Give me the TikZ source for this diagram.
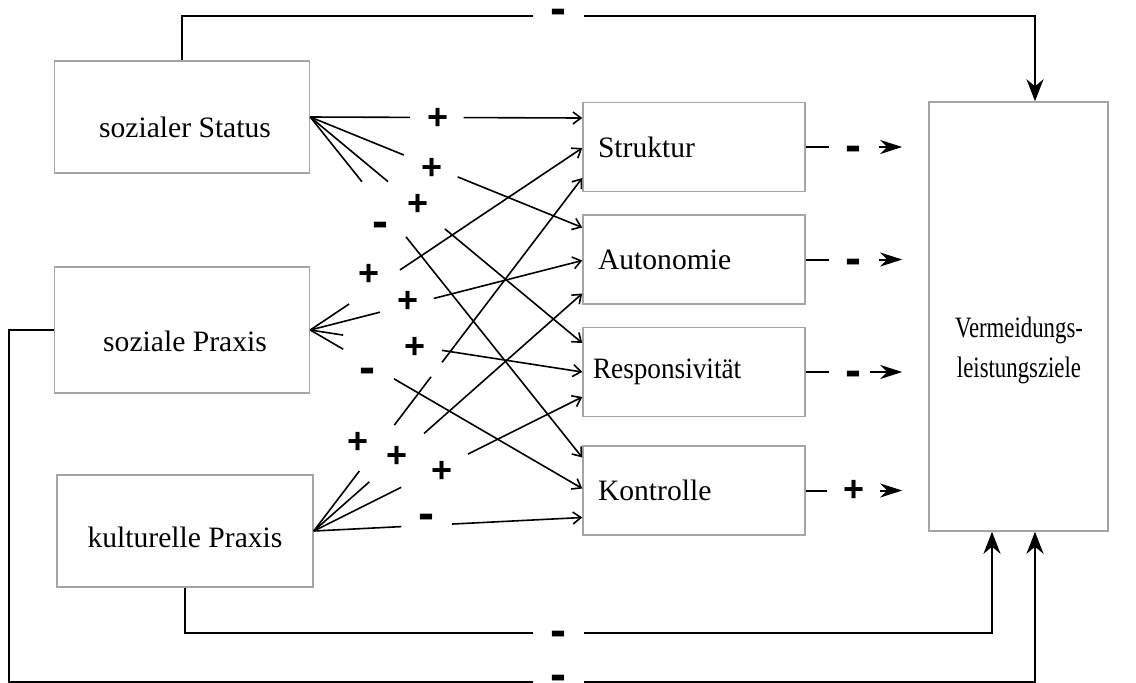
\documentclass[tikz,border=0pt]{standalone}
\usepackage{graphicx}
\usepackage{fontspec}
\setmainfont{Liberation Serif}
\newfontfamily\signfont{Liberation Sans}
\usetikzlibrary{arrows.meta, calc, positioning}
\definecolor{boxgray}{RGB}{165,165,165}

\begin{document}
\begin{tikzpicture}[
    x=0.5pt, y=-0.5pt,
    box/.style={draw=boxgray, line width=0.75pt, inner sep=0pt},
    txt/.style={font=\fontsize{14.8pt}{20pt}\selectfont, inner sep=0pt},
    mid/.style={box, txt, minimum height=44.5pt, text width=96pt, align=left, inner xsep=7.5pt},
    link/.style={line width=0.8pt},
    fb/.style={line width=1pt},
    smallhead/.style={-{Straight Barb[length=4pt,width=6pt]}},
    bighead/.style={-{Stealth[length=11pt,width=8.5pt,inset=3.5pt]}},
    sidehead/.style={-{Stealth[length=11pt,width=7pt,inset=3.5pt]}},
    sgnplus/.style={font={\signfont\bfseries\fontsize{18pt}{18pt}\selectfont}, inner sep=0pt},
    sgnminus/.style={font={\signfont\bfseries\fontsize{24pt}{24pt}\selectfont}, inner sep=0pt, yshift=-3.5pt}
  ]
    \useasboundingbox (0,0) rectangle (1136,682);

    % Einflussgroessen links
    \node[box, minimum width=127.5pt, minimum height=56pt] (status) at (182,117) {};
    \node[txt] (statustxt) at (185,127.5) {sozialer Status};
    \node[box, minimum width=127.5pt, minimum height=63pt] (praxis) at (182,330) {};
    \node[txt] (praxistxt) at (185,341.5) {soziale Praxis};
    \node[box, minimum width=128pt, minimum height=56pt] (kultur) at (185,531) {};
    \node[txt] (kulturtxt) at (185,537) {kulturelle Praxis};

    % Mediatoren
    \node[mid] (struk) at (694,147) {Struktur};
    \node[mid, below=11pt of struk] (auto) {Autonomie};
    \node[mid, below=11pt of auto] (resp) {\hspace*{-2.5pt}\scalebox{0.92}[1]{Responsivität}};
    \node[mid, below=14pt of resp] (kontr) {Kontrolle};

    % Zielgroesse
    \node[box, minimum width=89.5pt, minimum height=214.5pt] (verm) at (1018.5,316.5) {};
    \node[txt, align=center] (vermtxt) at (1019,350) {\scalebox{0.77}[1]{Vermeidungs-}\\\scalebox{0.77}[1]{leistungsziele}};

    % Eingaenge der Mediatoren
    \coordinate (tStrukA) at ($(struk.west)+(0,-29)$);
    \coordinate (tStrukB) at ($(struk.west)+(0,1)$);
    \coordinate (tStrukC) at ($(struk.west)+(0,31)$);
    \coordinate (tAutoA) at ($(auto.west)+(0,-32)$);
    \coordinate (tAutoB) at ($(auto.west)+(0,1)$);
    \coordinate (tAutoC) at ($(auto.west)+(0,34)$);
    \coordinate (tRespA) at ($(resp.west)+(0,-29)$);
    \coordinate (tRespB) at ($(resp.west)+(0,0)$);
    \coordinate (tRespC) at ($(resp.west)+(0,25)$);
    \coordinate (tKontrA) at ($(kontr.west)+(0,-33)$);
    \coordinate (tKontrB) at ($(kontr.west)+(0,-2)$);
    \coordinate (tKontrC) at ($(kontr.west)+(0,27)$);

    % sozialer Status
    \draw[link] (status.east) -- ($(status.east)!0.366!(tStrukA)$);
    \draw[link, smallhead] ($(status.east)!0.564!(tStrukA)$) -- (tStrukA);
    \node[sgnplus] (sgStatStruk) at (438,119) {+};
    \draw[link] (status.east) -- ($(status.east)!0.344!(tAutoA)$);
    \draw[link, smallhead] ($(status.east)!0.542!(tAutoA)$) -- (tAutoA);
    \node[sgnplus] (sgStatAuto) at (432,169) {+};
    \draw[link] (status.east) -- ($(status.east)!0.286!(tRespA)$);
    \draw[link, smallhead] ($(status.east)!0.495!(tRespA)$) -- (tRespA);
    \node[sgnplus] (sgStatResp) at (418,205) {+};
    \draw[link] (status.east) -- ($(status.east)!0.190!(tKontrA)$);
    \draw[link, smallhead] ($(status.east)!0.352!(tKontrA)$) -- (tKontrA);
    \node[sgnminus] (sgStatKontr) at (380,223) {-};

    % soziale Praxis
    \draw[link] (praxis.east) -- ($(praxis.east)!0.143!(tStrukB)$);
    \draw[link, smallhead] ($(praxis.east)!0.330!(tStrukB)$) -- (tStrukB);
    \node[sgnplus] (sgPraxStruk) at (369,275) {+};
    \draw[link] (praxis.east) -- ($(praxis.east)!0.256!(tAutoB)$);
    \draw[link, smallhead] ($(praxis.east)!0.454!(tAutoB)$) -- (tAutoB);
    \node[sgnplus] (sgPraxAuto) at (408,302) {+};
    \draw[link] (praxis.east) -- ($(praxis.east)!0.121!(tRespB)$);
    \draw[link, smallhead] ($(praxis.east)!0.484!(tRespB)$) -- (tRespB);
    \node[sgnplus] (sgPraxResp) at (415,348) {+};
    \draw[link] (praxis.east) -- ($(praxis.east)!0.121!(tKontrB)$);
    \draw[link, smallhead] ($(praxis.east)!0.308!(tKontrB)$) -- (tKontrB);
    \node[sgnminus] (sgPraxKontr) at (367,369) {-};

    % kulturelle Praxis
    \draw[link] (kultur.east) -- ($(kultur.east)!0.170!(tStrukC)$);
    \draw[link] ($(kultur.east)!0.300!(tStrukC)$) -- ($(kultur.east)!0.437!(tStrukC)$);
    \draw[link, smallhead] ($(kultur.east)!0.478!(tStrukC)$) -- (tStrukC);
    \node[sgnplus] (sgKultStruk) at (358,443) {+};
    \draw[link] (kultur.east) -- ($(kultur.east)!0.207!(tAutoC)$);
    \draw[link, smallhead] ($(kultur.east)!0.411!(tAutoC)$) -- (tAutoC);
    \node[sgnplus] (sgKultAuto) at (397,457) {+};
    \draw[link] (kultur.east) -- ($(kultur.east)!0.326!(tRespC)$);
    \draw[link, smallhead] ($(kultur.east)!0.574!(tRespC)$) -- (tRespC);
    \node[sgnplus] (sgKultResp) at (442,472) {+};
    \draw[link] (kultur.east) -- ($(kultur.east)!0.326!(tKontrC)$);
    \draw[link, smallhead] ($(kultur.east)!0.515!(tKontrC)$) -- (tKontrC);
    \node[sgnminus] (sgKultKontr) at (426,515) {-};

    % Mediatoren -> Vermeidungsleistungsziele
    \draw[fb] (struk.east) -- ++(23,0);
    \node[sgnminus] (sgStrukVerm) at ([xshift=24pt]struk.east) {-};
    \draw[fb, sidehead, shorten >=13pt] ([xshift=36.5pt]struk.east) -- (struk.east -| verm.west);
    \draw[fb] (auto.east) -- ++(23,0);
    \node[sgnminus] (sgAutoVerm) at ([xshift=24pt]auto.east) {-};
    \draw[fb, sidehead, shorten >=13pt] ([xshift=36.5pt]auto.east) -- (auto.east -| verm.west);
    \draw[fb] (resp.east) -- ++(23,0);
    \node[sgnminus] (sgRespVerm) at ([xshift=24pt]resp.east) {-};
    \draw[fb, sidehead, shorten >=13pt] ([xshift=32pt]resp.east) -- (resp.east -| verm.west);
    \draw[fb] (kontr.east) -- ++(21,0);
    \node[sgnplus] (sgKontrVerm) at ([xshift=24pt]kontr.east) {+};
    \draw[fb, sidehead, shorten >=13pt] ([xshift=37pt]kontr.east) -- (kontr.east -| verm.west);

    % direkte Pfade
    \draw[fb] (status.north) |- (533,16);
    \node[sgnminus] (sgTop) at (558,10) {-};
    \draw[fb, bighead] (584,16) -| ([xshift=8.25pt]verm.north);
    \draw[fb] (kultur.south) |- (533,633);
    \node[sgnminus] (sgBottom) at (558,632) {-};
    \draw[fb, bighead] (584,633) -| ([xshift=-13.25pt]verm.south);
    \draw[fb] (praxis.west) -| (9,682) -- (533,682);
    \node[sgnminus] (sgOuter) at (558,676) {-};
    \draw[fb, bighead] (584,682) -| ([xshift=8.25pt]verm.south);
  \end{tikzpicture}
\end{document}
